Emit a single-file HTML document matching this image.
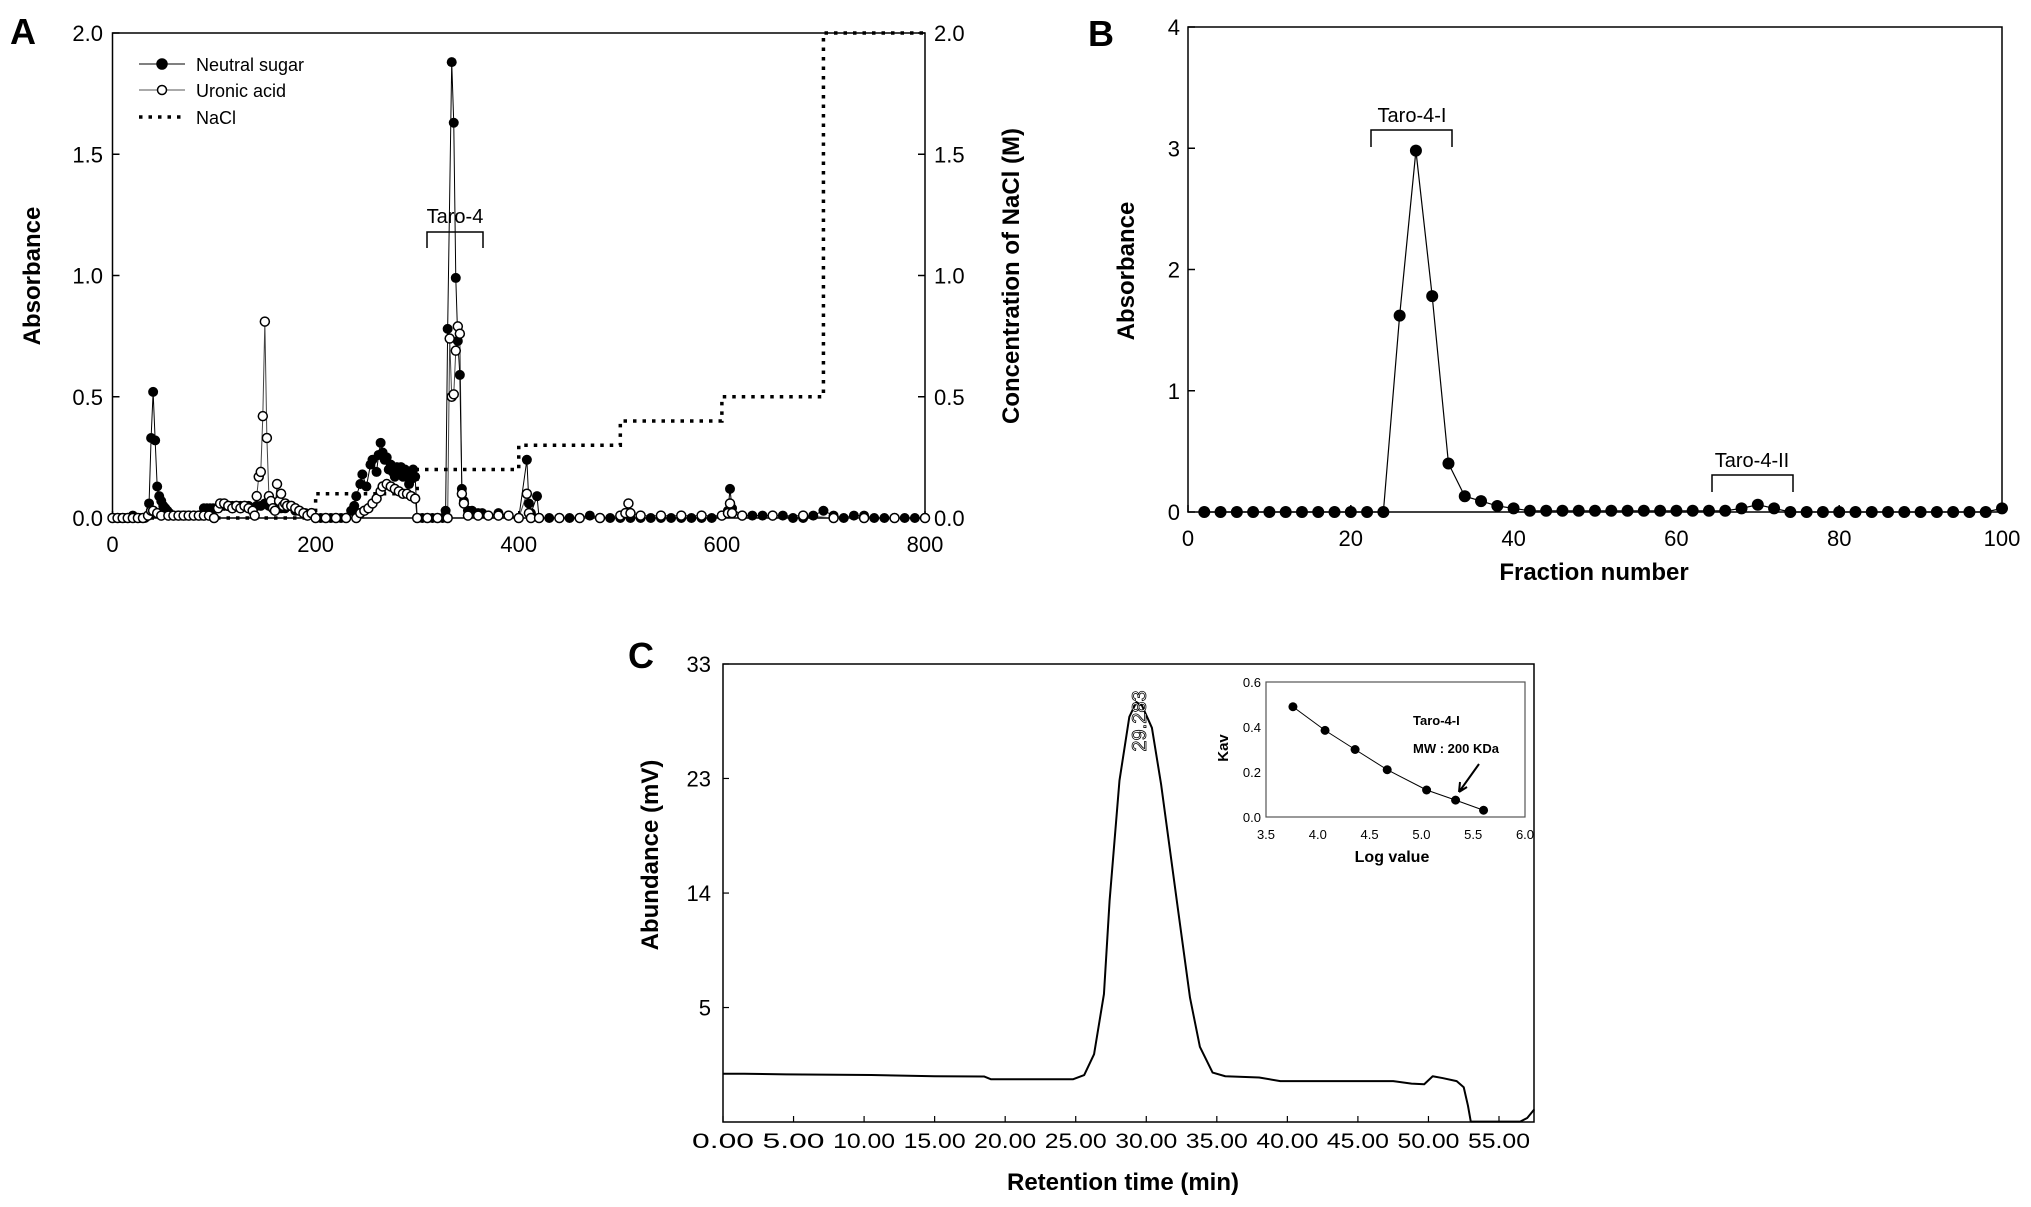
<!DOCTYPE html>
<html><head><meta charset="utf-8"><style>
html,body{margin:0;padding:0;background:#fff;}
svg{display:block;font-family:"Liberation Sans",Arial,sans-serif;}
</style></head><body>
<svg id="fig" width="2031" height="1207" viewBox="0 0 2031 1207" xmlns="http://www.w3.org/2000/svg">
<rect width="2031" height="1207" fill="#fff"/>
<g id="gA"></g>
<g id="gB"></g>
<g id="gC"></g>
</svg>
<script>
// ---------- Panel A data ----------
const aXTicks=[0,200,400,600,800];
const aYTicks=["0.0","0.5","1.0","1.5","2.0"];
const nsX=[0,4,8,12,16,20,24,28,32,36,38,40,42,44,46,48,50,52,54,56,60,64,68,72,76,80,84,88,90,93,96,99,102,106,110,114,118,122,126,130,134,138,142,146,150,154,158,162,166,170,180,190,200,205,210,215,220,225,230,235,238,240,244,246,250,254,256,260,262,264,266,268,270,272,274,276,278,280,282,284,286,288,290,292,294,296,298,300,305,310,315,320,325,328,330,334,336,338,340,342,344,346,350,354,360,364,370,380,390,400,408,410,412,418,420,430,440,450,460,470,480,490,500,510,520,530,540,550,560,570,580,590,600,606,608,610,620,630,640,650,660,670,680,690,700,710,720,730,740,750,760,770,780,790,800];
const nsY=[0,0,0,0,0,0.01,0,0,0,0.06,0.33,0.52,0.32,0.13,0.09,0.07,0.05,0.04,0.03,0.02,0.01,0.01,0.01,0.01,0.01,0.01,0.01,0.01,0.04,0.04,0.04,0.04,0.04,0.05,0.05,0.05,0.05,0.05,0.05,0.05,0.05,0.04,0.05,0.05,0.06,0.05,0.05,0.04,0.04,0.04,0.03,0.02,0,0,0,0,0,0,0,0.03,0.05,0.09,0.14,0.18,0.13,0.22,0.24,0.19,0.26,0.31,0.27,0.24,0.25,0.20,0.22,0.19,0.17,0.21,0.20,0.21,0.17,0.20,0.19,0.14,0.16,0.20,0.17,0,0,0,0,0,0,0.03,0.78,1.88,1.63,0.99,0.73,0.59,0.12,0.07,0.03,0.03,0.02,0.02,0.01,0.02,0.01,0,0.24,0.06,0.02,0.09,0,0,0,0,0,0.01,0,0,0,0,0,0,0,0,0,0,0,0,0.01,0.03,0.12,0.04,0.01,0.01,0.01,0.01,0.01,0,0,0.01,0.03,0.01,0,0.01,0.01,0,0,0,0,0,0,0.01];
const uaX=[0,5,10,15,20,25,30,35,38,40,44,48,55,60,65,70,75,80,85,90,95,100,104,106,110,114,118,122,126,130,134,138,140,142,144,146,148,150,152,154,156,158,160,162,164,166,168,170,172,176,180,184,188,192,196,200,210,220,230,240,244,248,252,256,260,264,266,270,274,278,282,286,290,294,298,300,310,320,330,332,334,336,338,340,342,344,346,350,360,370,380,390,400,408,410,412,420,440,460,480,500,505,508,510,520,540,560,580,600,606,608,610,620,650,680,710,740,770,800];
const uaY=[0,0,0,0,0,0,0,0.01,0.03,0.03,0.02,0.01,0.01,0.01,0.01,0.01,0.01,0.01,0.01,0.01,0.01,0,0.04,0.06,0.06,0.05,0.04,0.05,0.04,0.05,0.04,0.03,0.01,0.09,0.17,0.19,0.42,0.81,0.33,0.09,0.07,0.04,0.03,0.14,0.07,0.10,0.05,0.06,0.05,0.05,0.04,0.03,0.02,0.01,0.02,0,0,0,0,0,0.02,0.03,0.04,0.06,0.08,0.11,0.13,0.14,0.13,0.12,0.11,0.10,0.10,0.09,0.08,0,0,0,0,0.74,0.50,0.51,0.69,0.79,0.76,0.10,0.06,0.01,0.01,0.01,0.01,0.01,0,0.10,0.02,0,0,0,0,0,0.01,0.02,0.06,0.02,0.01,0.01,0.01,0.01,0.01,0.02,0.06,0.02,0.01,0.01,0.01,0,0,0,0];
const naclX=[0,200,200,300,300,400,400,500,500,600,600,700,700,800];
const naclY=[0,0,0.1,0.1,0.2,0.2,0.3,0.3,0.4,0.4,0.5,0.5,2.0,2.0];
// ---------- Panel B data ----------
const bXTicks=[0,20,40,60,80,100];
const bYTicks=[0,1,2,3,4];
const bX=[2,4,6,8,10,12,14,16,18,20,22,24,26,28,30,32,34,36,38,40,42,44,46,48,50,52,54,56,58,60,62,64,66,68,70,72,74,76,78,80,82,84,86,88,90,92,94,96,98,100];
const bY=[0,0,0,0,0,0,0,0,0,0,0,0,1.62,2.98,1.78,0.40,0.13,0.09,0.05,0.03,0.01,0.01,0.01,0.01,0.01,0.01,0.01,0.01,0.01,0.01,0.01,0.01,0.01,0.03,0.06,0.03,0,0,0,0,0,0,0,0,0,0,0,0,0,0.03];
// ---------- Panel C data ----------
const cXTicks=[0,5,10,15,20,25,30,35,40,45,50,55];
const cYTickLabels=["33","23","14","5"];
const cYTickVals=[33,23.67,14.33,5];
const cT=[0,1.5,4.5,10.5,15,18.5,19,22.5,24.8,25.6,26.3,27.0,27.4,28.1,28.8,29.3,29.7,30.4,31.05,32.2,33.1,33.8,34.7,35.6,38,39.5,44,47.5,48.8,49.7,50.3,51,52,52.5,52.8,53.0,56.5,57,57.5];
const cV=[-0.40,-0.40,-0.45,-0.50,-0.60,-0.62,-0.85,-0.85,-0.85,-0.5,1.2,6.1,13.7,23.5,28.7,29.9,29.6,27.8,23.2,13.4,5.8,1.8,-0.3,-0.6,-0.7,-1.0,-1.0,-1.0,-1.2,-1.25,-0.6,-0.75,-1.0,-1.5,-3.0,-4.3,-4.3,-4.0,-3.3];
const insX=[3.76,4.07,4.36,4.67,5.05,5.33,5.6];
const insY=[0.49,0.385,0.30,0.21,0.12,0.075,0.03];
const insXTicks=["3.5","4.0","4.5","5.0","5.5","6.0"];
const insYTicks=["0.0","0.2","0.4","0.6"];

const NS="http://www.w3.org/2000/svg";
function mk(parent,tag,attrs,text){const e=document.createElementNS(NS,tag);for(const k in attrs)e.setAttribute(k,attrs[k]);if(text!==undefined)e.textContent=text;parent.appendChild(e);return e;}

// ===== Panel A =====
(function(){
const g=document.getElementById('gA');
const L=112.5,R=925,T=33,B=518;
const x=v=>L+(R-L)*v/800, y=v=>B-(B-T)*v/2;
let t=mk(g,'text',{x:10,y:44,'font-size':36,'font-weight':'bold'},'A');


let f=mk(g,'rect',{x:L,y:T,width:R-L,height:B-T,fill:'none',stroke:'#000','stroke-width':1.5});


aXTicks.forEach(v=>{
 const tk=mk(g,'line',{x1:x(v),x2:x(v),y1:B,y2:B-7,stroke:'#000','stroke-width':1.5});
 
 
 const lb=mk(g,'text',{x:x(v),y:552,'font-size':22,'text-anchor':'middle'},String(v));
 
 
});
aYTicks.forEach(s=>{
 const v=parseFloat(s);
 const tk=mk(g,'line',{x1:L,x2:L+7,y1:y(v),y2:y(v),stroke:'#000','stroke-width':1.5});
 
 
 const tk2=mk(g,'line',{x1:R,x2:R-7,y1:y(v),y2:y(v),stroke:'#000','stroke-width':1.5});
 
 
 const lb=mk(g,'text',{x:103,y:y(v)+8,'font-size':22,'text-anchor':'end'},s);
 
 
 const lb2=mk(g,'text',{x:934,y:y(v)+8,'font-size':22,'text-anchor':'start'},s);
 
 
});
let yt=mk(g,'text',{x:0,y:0,'font-size':24,'font-weight':'bold','text-anchor':'middle',transform:'translate(40,276) rotate(-90)'},'Absorbance');


let yt2=mk(g,'text',{x:0,y:0,'font-size':24,'font-weight':'bold','text-anchor':'middle',transform:'translate(1019,276) rotate(-90)'},'Concentration of NaCl (M)');


// NaCl
let d='';naclX.forEach((v,i)=>{d+=(i?'L':'M')+x(v)+' '+y(naclY[i]);});
let nl=mk(g,'path',{d:d,fill:'none',stroke:'#000','stroke-width':3.5,'stroke-dasharray':'3.5 6'});


// uronic line + points
d='';uaX.forEach((v,i)=>{d+=(i?'L':'M')+x(v)+' '+y(uaY[i]);});
let ul=mk(g,'path',{d:d,fill:'none',stroke:'#444','stroke-width':1});


d='';nsX.forEach((v,i)=>{d+=(i?'L':'M')+x(v)+' '+y(nsY[i]);});
let nl2=mk(g,'path',{d:d,fill:'none',stroke:'#000','stroke-width':1});


nsX.forEach((v,i)=>{
 const c=mk(g,'circle',{cx:x(v),cy:y(nsY[i]),r:5,fill:'#000'});
 
 
});
uaX.forEach((v,i)=>{
 const c=mk(g,'circle',{cx:x(v),cy:y(uaY[i]),r:4.5,fill:'#fff',stroke:'#000','stroke-width':1.5});
 
 
});
// legend
const lg=mk(g,'g',{});


const items=[['Neutral sugar',64],['Uronic acid',90],['NaCl',117]];
items.forEach((it,i)=>{
 const e=mk(lg,'g',{});
 
 
 if(i<2){mk(e,'line',{x1:139,x2:185,y1:it[1],y2:it[1],stroke:i?'#555':'#000','stroke-width':1});
  mk(e,'circle',{cx:162,cy:it[1],r:i?4.5:5,fill:i?'#fff':'#000',stroke:'#000','stroke-width':1.5});}
 else mk(e,'line',{x1:139,x2:185,y1:it[1],y2:it[1],stroke:'#000','stroke-width':3.5,'stroke-dasharray':'3.5 6'});
 mk(e,'text',{x:196,y:it[1]+7,'font-size':18},it[0]);
});
// bracket
let br=mk(g,'path',{d:'M427 248 V232 H483 V248',fill:'none',stroke:'#000','stroke-width':1.5});


let bt=mk(g,'text',{x:455,y:223,'font-size':20,'text-anchor':'middle'},'Taro-4');


})();

// ===== Panel B =====
(function(){
const g=document.getElementById('gB');
const L=1188,R=2002,T=27,B=512;
const x=v=>L+(R-L)*v/100, y=v=>B-(B-T)*v/4;
let t=mk(g,'text',{x:1088,y:46,'font-size':36,'font-weight':'bold'},'B');


let f=mk(g,'rect',{x:L,y:T,width:R-L,height:B-T,fill:'none',stroke:'#000','stroke-width':1.5});


bXTicks.forEach(v=>{
 const tk=mk(g,'line',{x1:x(v),x2:x(v),y1:B,y2:B-7,stroke:'#000','stroke-width':1.5});
 
 
 const lb=mk(g,'text',{x:x(v),y:546,'font-size':22,'text-anchor':'middle'},String(v));
 
 
});
bYTicks.forEach(v=>{
 const tk=mk(g,'line',{x1:L,x2:L+7,y1:y(v),y2:y(v),stroke:'#000','stroke-width':1.5});
 
 
 const lb=mk(g,'text',{x:1180,y:y(v)+8,'font-size':22,'text-anchor':'end'},String(v));
 
 
});
let yt=mk(g,'text',{x:0,y:0,'font-size':24,'font-weight':'bold','text-anchor':'middle',transform:'translate(1134,271) rotate(-90)'},'Absorbance');


let xt=mk(g,'text',{x:1594,y:580,'font-size':24,'font-weight':'bold','text-anchor':'middle'},'Fraction number');


let d='';bX.forEach((v,i)=>{d+=(i?'L':'M')+x(v)+' '+y(bY[i]);});
let ln=mk(g,'path',{d:d,fill:'none',stroke:'#000','stroke-width':1.2});


bX.forEach((v,i)=>{
 const c=mk(g,'circle',{cx:x(v),cy:y(bY[i]),r:6,fill:'#000'});
 
 
});
let b1=mk(g,'path',{d:'M1371 147 V130 H1452 V147',fill:'none',stroke:'#000','stroke-width':1.5});


let t1=mk(g,'text',{x:1412,y:122,'font-size':20,'text-anchor':'middle'},'Taro-4-I');


let b2=mk(g,'path',{d:'M1712 492 V475 H1793 V492',fill:'none',stroke:'#000','stroke-width':1.5});


let t2=mk(g,'text',{x:1752,y:467,'font-size':20,'text-anchor':'middle'},'Taro-4-II');


})();

// ===== Panel C =====
(function(){
const g=document.getElementById('gC');
const L=723,R=1534,T=664,B=1122;
const xmax=57.5, ymin=-4.33, ymax=33;
const x=v=>L+(1499-L)*v/55, y=v=>B-(B-T)*(v-ymin)/(ymax-ymin);
let t=mk(g,'text',{x:628,y:668,'font-size':36,'font-weight':'bold'},'C');


let f=mk(g,'rect',{x:L,y:T,width:R-L,height:B-T,fill:'none',stroke:'#000','stroke-width':1.5});


cXTicks.forEach(v=>{
 const tk=mk(g,'line',{x1:x(v),x2:x(v),y1:B,y2:B-6,stroke:'#000','stroke-width':1.2});
 
 
 const lb=mk(g,'text',{x:x(v),y:1148,'font-size':21,'text-anchor':'middle','textLength':62,'lengthAdjust':'spacingAndGlyphs'},v.toFixed(2));
 
 
});
cYTickVals.forEach((v,i)=>{
 const tk=mk(g,'line',{x1:L,x2:L+6,y1:y(v),y2:y(v),stroke:'#000','stroke-width':1.2});
 
 
 const lb=mk(g,'text',{x:711,y:y(v)+8,'font-size':22,'text-anchor':'end'},cYTickLabels[i]);
 
 
});
let yt=mk(g,'text',{x:0,y:0,'font-size':24,'font-weight':'bold','text-anchor':'middle',transform:'translate(658,855) rotate(-90)'},'Abundance (mV)');


let xt=mk(g,'text',{x:1123,y:1190,'font-size':24,'font-weight':'bold','text-anchor':'middle'},'Retention time (min)');


let d='';cT.forEach((v,i)=>{d+=(i?'L':'M')+x(v)+' '+y(cV[i]);});
let ln=mk(g,'path',{d:d,fill:'none',stroke:'#000','stroke-width':2,'stroke-linejoin':'round'});


let pk=mk(g,'text',{x:0,y:0,'font-size':20,'text-anchor':'middle',fill:'#fff',stroke:'#000','stroke-width':0.8,transform:'translate(1146,721) rotate(-90)'},'29.283');


// inset
const IL=1266,IR=1525,IT=682,IB=817;
const ix=v=>IL+(IR-IL)*(v-3.5)/2.5, iy=v=>IB-(IB-IT)*v/0.6;
const ig=mk(g,'g',{});


let ir=mk(ig,'rect',{x:IL,y:IT,width:IR-IL,height:IB-IT,fill:'#fff',stroke:'#555','stroke-width':1.2});


insXTicks.forEach(s=>{
 const v=parseFloat(s);
 const lb=mk(ig,'text',{x:ix(v),y:839,'font-size':13,'text-anchor':'middle'},s);
 
 
});
insYTicks.forEach(s=>{
 const v=parseFloat(s);
 const lb=mk(ig,'text',{x:1261,y:iy(v)+5,'font-size':13,'text-anchor':'end'},s);
 
 
});
let ixt=mk(ig,'text',{x:1392,y:862,'font-size':16,'font-weight':'bold','text-anchor':'middle'},'Log value');


let iyt=mk(ig,'text',{x:0,y:0,'font-size':15,'font-weight':'bold','text-anchor':'middle',transform:'translate(1228,748) rotate(-90)'},'Kav');


d='';insX.forEach((v,i)=>{d+=(i?'L':'M')+ix(v)+' '+iy(insY[i]);});
let il=mk(ig,'path',{d:d,fill:'none',stroke:'#000','stroke-width':1});


insX.forEach((v,i)=>{
 const c=mk(ig,'circle',{cx:ix(v),cy:iy(insY[i]),r:4.5,fill:'#000'});
 
 
});
let a1=mk(ig,'text',{x:1413,y:725,'font-size':13,'font-weight':'bold'},'Taro-4-I');


let a2=mk(ig,'text',{x:1413,y:753,'font-size':13,'font-weight':'bold'},'MW : 200 KDa');


let ar=mk(ig,'path',{d:'M1479 764 L1459 792 M1459 792 L1460 782 M1459 792 L1467 787',fill:'none',stroke:'#000','stroke-width':2});


})();
</script>
</body></html>
